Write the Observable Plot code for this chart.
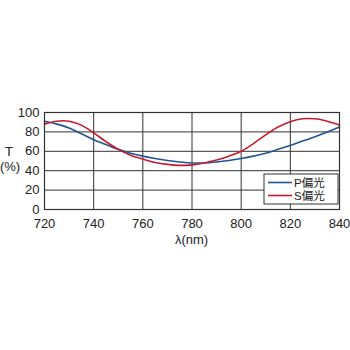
<!DOCTYPE html>
<html><head><meta charset="utf-8">
<script src="https://cdn.jsdelivr.net/npm/d3@7"></script>
<script src="https://cdn.jsdelivr.net/npm/@observablehq/plot@0.6"></script>
<style>
body{margin:0;background:#fff;}
#c{position:relative;width:350px;height:350px;}
</style>
</head><body><div id="c"></div>
<script>
const wavelengths = [720,725,730,735,740,745,750,755,760,765,770,775,780,785,790,795,800,805,810,815,820,825,830,835,840];
const pValues = [91,88,84,78,72,67,62,58,55,52.5,50.5,49,48,48,49,50.5,52.5,55,58,62,66,70.5,75,80,85];
const sValues = [88,91,91,87,79,70,62,56,52,48.5,46.5,45.5,46,48,51,55,60,68,77,85,90.5,93.5,93.5,91,87];
const seriesNames = ["P偏光","S偏光"];
const seriesColors = ["#1f5592","#c81a2e"];
const xTicks = [720,740,760,780,800,820,840];
const yTicks = [0,20,40,60,80,100];

const data = [];
wavelengths.forEach((w,i)=>{
  data.push({w, v:pValues[i], s:seriesNames[0]});
  data.push({w, v:sValues[i], s:seriesNames[1]});
});

const font = "'Liberation Sans', Arial, 'Noto Sans CJK JP', sans-serif";
const plot = Plot.plot({
  width:350, height:350,
  marginLeft:44, marginRight:11, marginTop:112, marginBottom:141,
  style:{fontFamily:font, fontSize:"13px", color:"#222", background:"#fff"},
  x:{domain:[720,840], ticks:xTicks, tickSize:0, tickPadding:9, label:null, grid:false},
  y:{domain:[0,100], ticks:yTicks, tickSize:0, tickPadding:5, label:null},
  color:{domain:seriesNames, range:seriesColors},
  marks:[
    Plot.gridX(xTicks,{stroke:"#333", strokeOpacity:1, strokeWidth:1}),
    Plot.gridY(yTicks,{stroke:"#333", strokeOpacity:1, strokeWidth:1}),
    Plot.axisX({ticks:xTicks, tickSize:0, tickPadding:9, label:null, fontSize:13}),
    Plot.axisY({ticks:yTicks, tickSize:0, tickPadding:5, label:null, fontSize:13}),
    Plot.line(data,{x:"w", y:"v", stroke:"s", z:"s", strokeWidth:1.6, curve:"catmull-rom"}),
    Plot.frame({stroke:"#333", strokeWidth:1.2})
  ]
});
document.getElementById("c").appendChild(plot);

const svg = d3.select(plot);
const xs = plot.scale("x");
function addText(x, y, t, anchor, size){
  return svg.append("text").attr("x",x).attr("y",y).attr("text-anchor",anchor)
    .style("font-family",font).style("font-size",(size||13)+"px").attr("fill","#222").text(t);
}
// y label
addText(9,156,"T","middle");
addText(10,171,"(%)","middle");
// x label
addText((xs.apply(720)+xs.apply(840))/2, 244, "λ(nm)", "middle");
// legend
const lx = 264, ly = 174, lw = 74, lh = 30;
svg.append("rect").attr("x",lx).attr("y",ly).attr("width",lw).attr("height",lh)
  .attr("fill","#fff").attr("stroke","#333").attr("stroke-width",1);
seriesNames.forEach((n,i)=>{
  const yy = ly + 8.5 + i*13;
  svg.append("line").attr("x1",lx+4).attr("x2",lx+28).attr("y1",yy).attr("y2",yy)
    .attr("stroke",seriesColors[i]).attr("stroke-width",1.6);
  addText(lx+30, yy+4, n, "start", 11.5);
});
</script>
</body></html>
